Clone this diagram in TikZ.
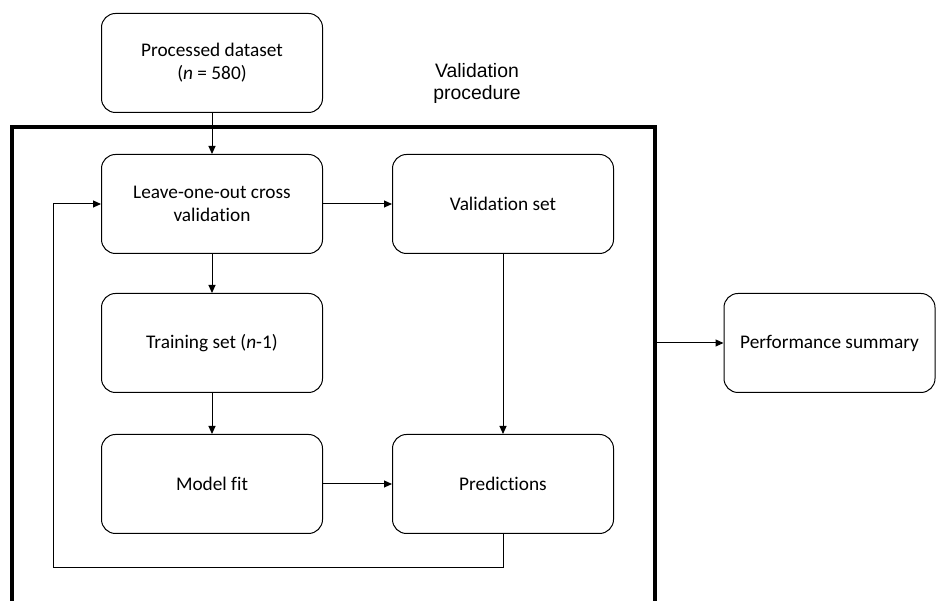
\documentclass[tikz,border=0pt]{standalone}
\usepackage{fontspec}
\setmainfont{Carlito}[Ligatures=NoCommon]
\newfontfamily\procfont{Liberation Sans}
\usetikzlibrary{arrows.meta,positioning}

\begin{document}
\begin{tikzpicture}[
    x=1pt, y=1pt,
    box/.style={rectangle, draw, rounded corners=14pt, line width=1pt, minimum width=221pt, minimum height=99pt, align=center, font=\fontsize{19.3}{23}\selectfont},
    frame/.style={rectangle, draw, line width=4pt, inner sep=0pt, minimum width=643pt, minimum height=514pt},
    arrow/.style={-{Triangle[length=8pt,width=7pt]}, line width=1pt}
]
\useasboundingbox (0,0) rectangle (936,601);

% Nodes
\node[frame] (frame) at (333.5,217) {};
\node[font=\procfont\fontsize{19.4}{22}\selectfont, align=center] (proclabel) at (477,518) {Validation\\procedure};
\node[box] (data) at (212,538) {Processed dataset\\(\textit{n} = 580)};
\node[box, below=41pt of data] (loocv) {Leave-one-out cross\\validation};
\node[box, right=69pt of loocv] (valset) {Validation set};
\node[box, below=39pt of loocv] (train) {Training set (\textit{n}-1)};
\node[box, below=41pt of train] (fit) {Model fit};
\node[box, right=69pt of fit] (pred) {Predictions};
\node[box, minimum width=211pt] (perf) at (829.5,258) {Performance summary};
\coordinate (loop) at (53,33);

% Edges
\draw[arrow] (data) -- (loocv);
\draw[arrow] (loocv) -- (valset);
\draw[arrow] (loocv) -- (train);
\draw[arrow] (train) -- (fit);
\draw[arrow] (fit) -- (pred);
\draw[arrow] (valset) -- (pred);
\draw[arrow] (pred.south) |- (loop) |- (loocv.west);
\draw[arrow] (frame.east |- perf.west) -- (perf.west);
\end{tikzpicture}
\end{document}
